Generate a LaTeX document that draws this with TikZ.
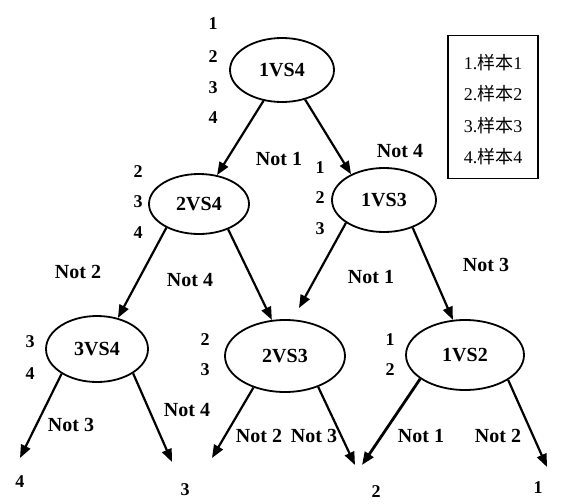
\documentclass[tikz,border=0pt]{standalone}
\usepackage{fontspec}
\setmainfont{Liberation Serif}
\newfontfamily\cjk{Noto Sans CJK SC}
\usetikzlibrary{arrows.meta,shapes.geometric}
\begin{document}
\begin{tikzpicture}[x=1pt,y=-1pt,
  vs/.style={draw, line width=1.8pt, ellipse, inner sep=0pt,
             font=\fontsize{20}{20}\selectfont\bfseries},
  lab/.style={inner sep=0pt, font=\fontsize{20}{20}\selectfont\bfseries},
  num/.style={inner sep=0pt, font=\fontsize{18}{18}\selectfont\bfseries},
  arr/.style={line width=2.2pt, -{Triangle[length=13pt,width=10pt]}},
  legtext/.style={inner sep=0pt, font=\fontsize{18}{18}\selectfont},
]
\useasboundingbox (0,0) rectangle (567,503);

% decision nodes
\node[vs, minimum width=104pt, minimum height=64pt] (a) at (282,70) {1VS4};
\node[vs, minimum width=100pt, minimum height=60pt] (b) at (199,204) {2VS4};
\node[vs, minimum width=104pt, minimum height=64pt] (c) at (384,200) {1VS3};
\node[vs, minimum width=102pt, minimum height=66pt] (d) at (97,349) {3VS4};
\node[vs, minimum width=120pt, minimum height=72pt] (e) at (285,356) {2VS3};
\node[vs, minimum width=118pt, minimum height=70pt] (f) at (465,355) {1VS2};

% candidate lists
\node[num] (a1) at (213,24) {1};
\node[num] (a2) at (213,57) {2};
\node[num] (a3) at (213,88) {3};
\node[num] (a4) at (213,118) {4};
\node[num] (b2) at (138,172) {2};
\node[num] (b3) at (138,202) {3};
\node[num] (b4) at (138,233) {4};
\node[num] (c1) at (320,168) {1};
\node[num] (c2) at (320,198) {2};
\node[num] (c3) at (320,229) {3};
\node[num] (d3) at (30,342) {3};
\node[num] (d4) at (30,374) {4};
\node[num] (e2) at (205,340) {2};
\node[num] (e3) at (205,370) {3};
\node[num] (f1) at (390,340) {1};
\node[num] (f2) at (390,370) {2};

% leaves
\node[num] (l4) at (20,482) {4};
\node[num] (l3) at (185,490) {3};
\node[num] (l2) at (376,492) {2};
\node[num] (l1) at (538,488) {1};

% arrow tips that stop short of a node
\coordinate (te) at (299,308);
\coordinate (t4) at (20,458);
\coordinate (t3a) at (172,462);
\coordinate (t3b) at (212,458);
\coordinate (t2a) at (355,465);
\coordinate (t2b) at (362,465);
\coordinate (t1) at (547,467);

% connectors
\draw[arr] (a.239) -- (b.58);
\draw[arr] (a.308) -- (c.142);
\draw[arr] (b.216) -- (d.56);
\draw[arr] (b.319) -- (e.110);
\draw[arr] (c.211) -- (te);
\draw[arr] (c.316) -- (f.109);
\draw[arr] (d.215) -- (t4);
\draw[arr] (d.326) -- (t3a);
\draw[arr] (e.225) -- (t3b);
\draw[arr] (e.317) -- (t2a);
\draw[arr, line width=2.8pt] (f.208) -- (t2b);
\draw[arr] (f.330) -- (t1);

% connector labels
\node[lab] (n1) at (279,159) {Not 1};
\node[lab] (n2) at (400,151) {Not 4};
\node[lab] (n3) at (78,272) {Not 2};
\node[lab] (n4) at (190,280) {Not 4};
\node[lab] (n5) at (371,277) {Not 1};
\node[lab] (n6) at (486,265) {Not 3};
\node[lab] (n7) at (71,425) {Not 3};
\node[lab] (n8) at (187,410) {Not 4};
\node[lab] (n9) at (259,436) {Not 2};
\node[lab] (n10) at (314,436) {Not 3};
\node[lab] (n11) at (421,436) {Not 1};
\node[lab] (n12) at (498,436) {Not 2};

% legend
\node[draw, line width=1.8pt, minimum width=90pt, minimum height=143pt, inner sep=0pt] (leg) at (493,107) {};
\node[legtext] (g1) at (493,63) {1.{\cjk 样本}1};
\node[legtext] (g2) at (493,94) {2.{\cjk 样本}2};
\node[legtext] (g3) at (493,126) {3.{\cjk 样本}3};
\node[legtext] (g4) at (493,157) {4.{\cjk 样本}4};
\end{tikzpicture}
\end{document}
